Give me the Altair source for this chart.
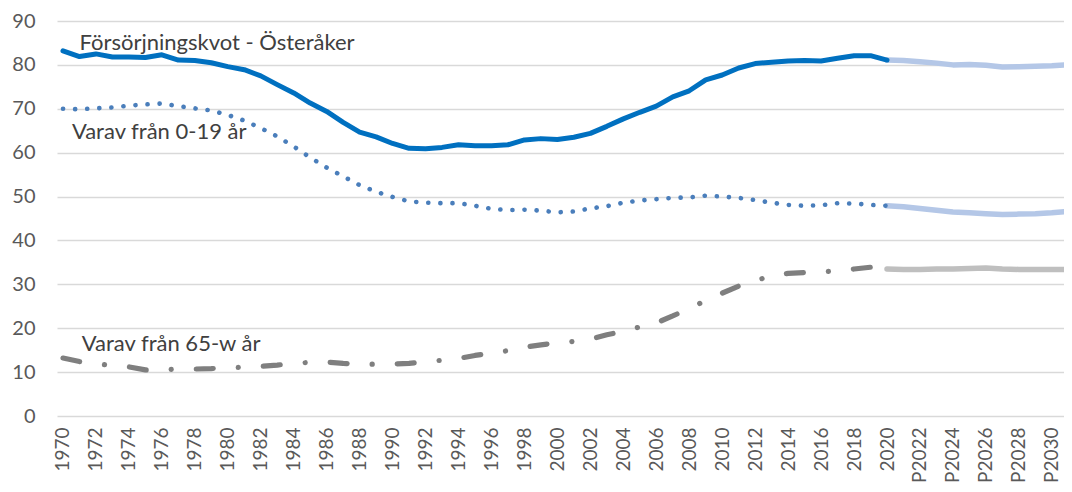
import altair as alt
import pandas as pd

# ---- data ----
years = list(range(1970, 2021))
total = [83.2, 81.9, 82.5, 81.8, 81.8, 81.7, 82.3, 81.1, 81.0, 80.5,
         79.6, 78.9, 77.5, 75.5, 73.6, 71.3, 69.4, 66.9, 64.7, 63.6,
         62.1, 61.0, 60.9, 61.2, 61.8, 61.6, 61.6, 61.8, 62.9, 63.2,
         63.0, 63.5, 64.4, 66.0, 67.7, 69.2, 70.6, 72.7, 74.1, 76.6,
         77.7, 79.3, 80.3, 80.6, 80.9, 81.0, 80.9, 81.5, 82.1, 82.1,
         81.1]
young = [70.0, 69.9, 70.1, 70.3, 70.7, 71.0, 71.2, 70.6, 70.1, 69.6,
         68.6, 67.3, 65.6, 63.7, 61.4, 58.9, 56.6, 54.6, 52.6, 51.1,
         49.9, 48.9, 48.6, 48.5, 48.5, 47.9, 47.2, 46.9, 47.0, 46.8,
         46.4, 46.6, 47.3, 47.8, 48.6, 49.1, 49.4, 49.7, 49.8, 50.2,
         50.0, 49.7, 49.2, 48.6, 48.1, 47.9, 48.0, 48.5, 48.4, 48.1,
         47.9]
old = [13.2, 12.4, 11.9, 11.5, 11.2, 10.5, 10.5, 10.7, 10.7, 10.8,
       11.0, 11.1, 11.3, 11.6, 12.0, 12.2, 12.3, 12.0, 11.8, 11.8,
       11.8, 12.0, 12.4, 12.7, 13.1, 13.8, 14.3, 14.9, 15.7, 16.2,
       16.7, 17.0, 17.5, 18.5, 19.3, 20.3, 21.2, 22.8, 24.5, 26.3,
       28.0, 29.6, 30.8, 32.0, 32.5, 32.7, 32.8, 33.1, 33.5, 33.9,
       33.5]

proj_years = list(range(2020, 2032))   # 2020 and P2021..P2031
total_p = [81.1, 81.0, 80.7, 80.4, 80.0, 80.1, 79.9, 79.5, 79.6, 79.7, 79.8, 80.0]
young_p = [47.9, 47.7, 47.3, 46.9, 46.5, 46.3, 46.1, 45.9, 46.0, 46.1, 46.3, 46.6]
old_p = [33.5, 33.4, 33.4, 33.5, 33.5, 33.6, 33.7, 33.5, 33.4, 33.4, 33.4, 33.4]

tick_years = list(range(1970, 2031, 2))

label_texts = ["Försörjningskvot - Österåker", "Varav från 0-19 år", "Varav från 65-w år"]
label_years = [1971.0, 1970.54, 1971.14]
label_values = [85.0, 64.7, 16.4]

# ---- frames ----
hist = pd.DataFrame({"year": years, "total": total, "young": young, "old": old})
proj = pd.DataFrame({"year": proj_years, "total": total_p, "young": young_p, "old": old_p})
labels = pd.DataFrame({"text": label_texts, "year": label_years, "value": label_values})

FONT = "Lato"
TXT = "#595959"

xscale = alt.Scale(domain=[1969.636, 2030.74], nice=False, zero=False)
yscale = alt.Scale(domain=[0, 90], nice=False)

xaxis = alt.Axis(values=tick_years, labelAngle=-90, grid=False, ticks=False, domain=False,
                 labelExpr="datum.value > 2020 ? 'P' + datum.value : '' + datum.value",
                 labelFont=FONT, labelFontSize=19, labelColor=TXT, labelPadding=11,
                 labelOverlap=False, labelFlush=False, title=None)
yaxis = alt.Axis(values=list(range(0, 91, 10)), grid=True, gridColor="#D9D9D9", gridWidth=1.5,
                 ticks=False, domain=False, labelFont=FONT, labelFontSize=20,
                 labelColor=TXT, labelPadding=22, title=None)


def line(df, field, color, width, dash=None):
    kw = dict(color=color, strokeWidth=width, strokeCap="round", strokeJoin="round", clip=True)
    if dash is not None:
        kw["strokeDash"] = dash
    return alt.Chart(df).mark_line(**kw).encode(
        x=alt.X("year:Q", scale=xscale, axis=xaxis, title=None),
        y=alt.Y(f"{field}:Q", scale=yscale, axis=yaxis, title=None),
    )


layers = [
    line(proj, "old", "#BFBFBF", 5.5),
    line(proj, "young", "#B4C7E7", 5.5),
    line(proj, "total", "#B4C7E7", 5.5),
    line(hist, "old", "#7F7F7F", 5.2, dash=[17, 25, 0.1, 25]),
    line(hist, "young", "#4A7EBB", 4.6, dash=[0.1, 12.0]),
    line(hist, "total", "#0070C0", 5),
]

text = alt.Chart(labels).mark_text(align="left", baseline="middle", font=FONT,
                                   fontSize=22, color="#404040").encode(
    x=alt.X("year:Q", scale=xscale, axis=xaxis, title=None),
    y=alt.Y("value:Q", scale=yscale, axis=yaxis, title=None),
    text="text:N",
)

chart = alt.layer(*layers, text).properties(
    width=1007, height=395,
    autosize=alt.AutoSizeParams(type="none"),
    padding={"left": 49, "top": 13, "right": 0, "bottom": 68},
).configure_view(stroke=None)

chart.save("out.html", embed_options={"renderer": "svg", "actions": False})
